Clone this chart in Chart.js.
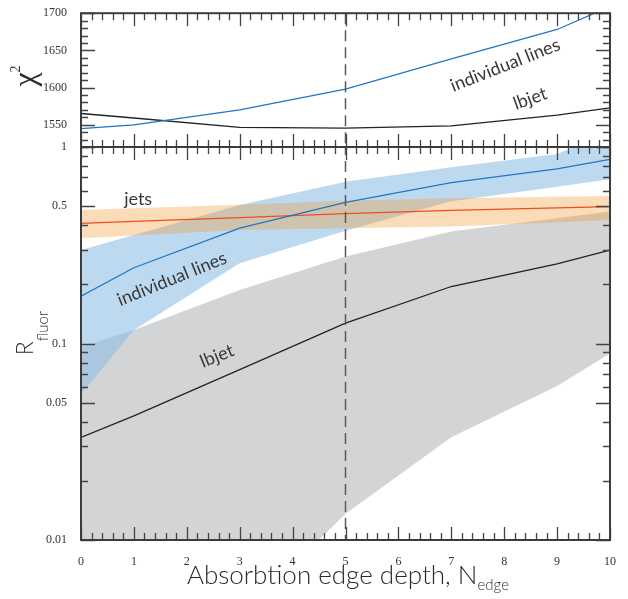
<!DOCTYPE html>
<html>
<head>
<meta charset="utf-8">
<script src="https://cdn.jsdelivr.net/npm/chart.js@4/dist/chart.umd.min.js"></script>
<style>
  html, body { margin: 0; padding: 0; background: #fff; }
  #wrap { position: relative; width: 628px; height: 599px; }
  #wrap canvas { position: absolute; left: 0; top: 0; }
</style>
</head>
<body>
<div id="wrap">
  <canvas id="fluorChart" width="628" height="599"></canvas>
  <canvas id="chiChart" width="628" height="599"></canvas>
</div>
<script>
// Absorption-edge depths at which the fits were run
const edgeDepth = [0, 1, 3, 5, 7, 9, 10];

// chi-square of the two fit families
const chi2IndividualLines = [1544.6, 1549.8, 1569.9, 1597.9, 1638.6, 1678.1, 1709];
const chi2Lbjet = [1565.1, 1559, 1546.3, 1545.4, 1548.5, 1563, 1572.6];

// fluorescence fraction: best value plus upper / lower band edge
const jetsMid = [0.409, 0.418, 0.437, 0.458, 0.476, 0.49, 0.497];
const jetsHigh = [0.478, 0.488, 0.508, 0.533, 0.548, 0.558, 0.563];
const jetsLow = [0.343, 0.355, 0.378, 0.386, 0.394, 0.414, 0.425];

const linesMid = [0.174, 0.243, 0.386, 0.523, 0.658, 0.773, 0.866];
const linesHigh = [0.299, 0.357, 0.507, 0.665, 0.788, 0.921, 1.19];
const linesLow = [0.055, 0.117, 0.256, 0.375, 0.53, 0.628, 0.685];

const lbjetMid = [0.0333, 0.0428, 0.0737, 0.127, 0.195, 0.254, 0.299];
const lbjetHigh = [0.096, 0.117, 0.187, 0.277, 0.371, 0.434, 0.469];
const lbjetLow = [0.001, 0.002, 0.004, 0.0136, 0.0333, 0.0608, 0.089];

// tick labels
const xTickValues = [0, 1, 2, 3, 4, 5, 6, 7, 8, 9, 10];
const chiTickValues = [1550, 1600, 1650, 1700];
const fluorTickValues = [0.01, 0.05, 0.1, 0.5, 1];

// reference edge depth marked by the dashed line
const markedDepth = 5;

const pts = ys => edgeDepth.map((x, i) => ({ x: x, y: ys[i] }));

const serifTicks = { family: 'Liberation Serif', size: 12 };
const labelFont = '400 18px Lato';
const inkColor = '#383838';

function range(a, b, step) {
  const out = [];
  for (let v = a; v <= b + 1e-9; v += step) out.push(Math.round(v * 1000) / 1000);
  return out;
}

// minor/major tick sets for the frame decorations
const xMinor = range(0, 10, 0.2);
const chiMinor = range(1520, 1700, 10);
const fluorMinor = [];
[0.01, 0.1].forEach(d => { for (let m = 2; m <= 9; m++) fluorMinor.push(d * m); });
const fluorMajor = [0.01, 0.05, 0.1, 0.5, 1];

// frame, inward ticks on all four sides and the dashed marker
const frameAndTicks = {
  id: 'frameAndTicks',
  afterDatasetsDraw(chart, args, opts) {
    const { ctx, chartArea: a, scales } = chart;
    const xs = scales.x, ys = scales.y;
    ctx.save();
    const xm = xs.getPixelForValue(markedDepth);
    ctx.strokeStyle = '#5a5a5a';
    ctx.lineWidth = 1.5;
    ctx.setLineDash([11, 6]);
    ctx.lineDashOffset = opts.dashOffset || 0;
    ctx.beginPath();
    ctx.moveTo(xm, a.top);
    ctx.lineTo(xm, a.bottom);
    ctx.stroke();
    ctx.setLineDash([]);

    ctx.strokeStyle = '#444';
    ctx.lineWidth = 1.3;
    ctx.beginPath();
    const seg = (x1, y1, x2, y2) => { ctx.moveTo(x1, y1); ctx.lineTo(x2, y2); };
    const isMajorX = v => Math.abs(v - Math.round(v)) < 1e-6;
    xMinor.forEach(v => {
      const len = isMajorX(v) ? 13 : 7;
      const px = Math.round(xs.getPixelForValue(v)) + 0.5;
      seg(px, a.top, px, a.top + len);
      seg(px, a.bottom, px, a.bottom - len);
    });
    opts.yMinor.forEach(v => {
      const py = Math.round(ys.getPixelForValue(v)) + 0.5;
      seg(a.left, py, a.left + 7, py);
      seg(a.right, py, a.right - 7, py);
    });
    opts.yMajor.forEach(v => {
      const py = Math.round(ys.getPixelForValue(v)) + 0.5;
      seg(a.left, py, a.left + 14, py);
      seg(a.right, py, a.right - 14, py);
    });
    ctx.stroke();

    ctx.lineWidth = 2;
    ctx.strokeStyle = '#3c3c3c';
    ctx.strokeRect(a.left, a.top, a.right - a.left, a.bottom - a.top);
    ctx.restore();
  }
};

function drawRuns(ctx, runs, cx, cy, angle, color) {
  ctx.save();
  ctx.translate(cx, cy);
  ctx.rotate(angle);
  let total = 0;
  runs.forEach(r => { ctx.font = r.font; total += ctx.measureText(r.text).width; });
  let x = -total / 2;
  ctx.textAlign = 'left';
  ctx.textBaseline = 'alphabetic';
  ctx.fillStyle = color || inkColor;
  runs.forEach(r => {
    ctx.font = r.font;
    ctx.fillText(r.text, x, r.dy || 0);
    x += ctx.measureText(r.text).width;
  });
  ctx.restore();
}

// curve names placed in data coordinates, plus axis titles
const annotations = {
  id: 'annotations',
  afterDraw(chart, args, opts) {
    const { ctx, scales } = chart;
    ctx.save();
    ctx.fillStyle = inkColor;
    ctx.font = labelFont;
    ctx.textAlign = 'center';
    ctx.textBaseline = 'middle';
    opts.labels.forEach(l => {
      ctx.save();
      ctx.translate(scales.x.getPixelForValue(l.x), scales.y.getPixelForValue(l.y));
      ctx.rotate(l.angle * Math.PI / 180);
      ctx.fillText(l.text, 0, 0);
      ctx.restore();
    });
    ctx.restore();
    opts.titles.forEach(t => drawRuns(ctx, t.runs, t.x, t.y, t.angle, '#2a2a2a'));
  }
};

const baseOptions = (padding) => ({
  responsive: false,
  animation: false,
  devicePixelRatio: 1,
  layout: { padding: padding },
  elements: { point: { radius: 0, hoverRadius: 0 }, line: { tension: 0 } },
  plugins: {
    legend: { display: false },
    tooltip: { enabled: false },
    filler: { drawTime: 'beforeDatasetsDraw' }
  },
  events: []
});

// ---------- upper panel: chi-square ----------
const chiOpts = baseOptions({ top: 10, right: 18, bottom: 452, left: 0 });
chiOpts.scales = {
  x: { type: 'linear', min: 0, max: 10, display: false },
  y: {
    type: 'linear', min: 1520, max: 1700,
    afterBuildTicks: s => { s.ticks = chiTickValues.map(v => ({ value: v })); },
    afterFit: s => { s.width = 81; },
    grid: { display: false },
    border: { display: false },
    ticks: { font: serifTicks, color: '#333', padding: 6, autoSkip: false, callback: v => String(v) }
  }
};
chiOpts.plugins.frameAndTicks = { yMinor: chiMinor, yMajor: chiTickValues, dashOffset: 0 };
chiOpts.plugins.annotations = {
  labels: [
    { text: 'individual lines', x: 8.02, y: 1630, angle: -21.5 },
    { text: 'lbjet', x: 8.49, y: 1585, angle: -20 }
  ],
  titles: [
    { x: 35, y: 76, angle: -Math.PI / 2, runs: [
      { text: 'χ', font: '32px "Liberation Serif"' },
      { text: '2', font: '14px "Liberation Serif"', dy: -15 }
    ] }
  ]
};

new Chart(document.getElementById('chiChart'), {
  type: 'line',
  data: {
    datasets: [
      { label: 'individual lines', data: pts(chi2IndividualLines), borderColor: '#2176c4', borderWidth: 1.3, fill: false },
      { label: 'lbjet', data: pts(chi2Lbjet), borderColor: '#222', borderWidth: 1.3, fill: false }
    ]
  },
  options: chiOpts,
  plugins: [frameAndTicks, annotations]
});

// ---------- lower panel: fluorescence fraction ----------
const fluorOpts = baseOptions({ top: 147, right: 18, bottom: 0, left: 0 });
fluorOpts.scales = {
  x: {
    type: 'linear', min: 0, max: 10,
    afterBuildTicks: s => { s.ticks = xTickValues.map(v => ({ value: v })); },
    afterFit: s => { s.height = 59; },
    grid: { display: false },
    border: { display: false },
    ticks: { font: serifTicks, color: '#333', padding: 7, autoSkip: false, maxRotation: 0, callback: v => String(v) }
  },
  y: {
    type: 'logarithmic', min: 0.01, max: 1,
    afterBuildTicks: s => { s.ticks = fluorTickValues.map(v => ({ value: v })); },
    afterFit: s => { s.width = 81; },
    grid: { display: false },
    border: { display: false },
    ticks: { font: serifTicks, color: '#333', padding: 6, autoSkip: false, callback: v => String(v) }
  }
};
fluorOpts.plugins.frameAndTicks = { yMinor: fluorMinor, yMajor: fluorMajor, dashOffset: 3 };
fluorOpts.plugins.annotations = {
  labels: [
    { text: 'jets', x: 1.08, y: 0.544, angle: 0 },
    { text: 'individual lines', x: 1.72, y: 0.213, angle: -22 },
    { text: 'lbjet', x: 2.57, y: 0.0863, angle: -22 }
  ],
  titles: [
    { x: 33, y: 333, angle: -Math.PI / 2, runs: [
      { text: 'R', font: '300 23px Lato' },
      { text: 'fluor', font: '300 15px Lato', dy: 15 }
    ] },
    { x: 348, y: 584, angle: 0, runs: [
      { text: 'Absorbtion edge depth, N', font: '300 26px Lato' },
      { text: 'edge', font: '300 15px Lato', dy: 6 }
    ] }
  ]
};

const band = (hi, lo, color, order) => [
  { label: 'upper', data: pts(hi), borderWidth: 0, borderColor: 'rgba(0,0,0,0)', backgroundColor: color, fill: '+1', order: order },
  { label: 'lower', data: pts(lo), borderWidth: 0, borderColor: 'rgba(0,0,0,0)', fill: false, order: order }
];

new Chart(document.getElementById('fluorChart'), {
  type: 'line',
  data: {
    datasets: [
      ...band(lbjetHigh, lbjetLow, '#d3d4d6', 3),
      ...band(linesHigh, linesLow, 'rgba(142,191,230,0.59)', 2),
      ...band(jetsHigh, jetsLow, 'rgba(240,149,43,0.33)', 1),
      { label: 'lbjet', data: pts(lbjetMid), borderColor: '#222', borderWidth: 1.3, fill: false, order: 0 },
      { label: 'individual lines', data: pts(linesMid), borderColor: '#2176c4', borderWidth: 1.3, fill: false, order: 0 },
      { label: 'jets', data: pts(jetsMid), borderColor: '#ee4e22', borderWidth: 1.3, fill: false, order: 0 }
    ]
  },
  options: fluorOpts,
  plugins: [frameAndTicks, annotations]
});
</script>
</body>
</html>
